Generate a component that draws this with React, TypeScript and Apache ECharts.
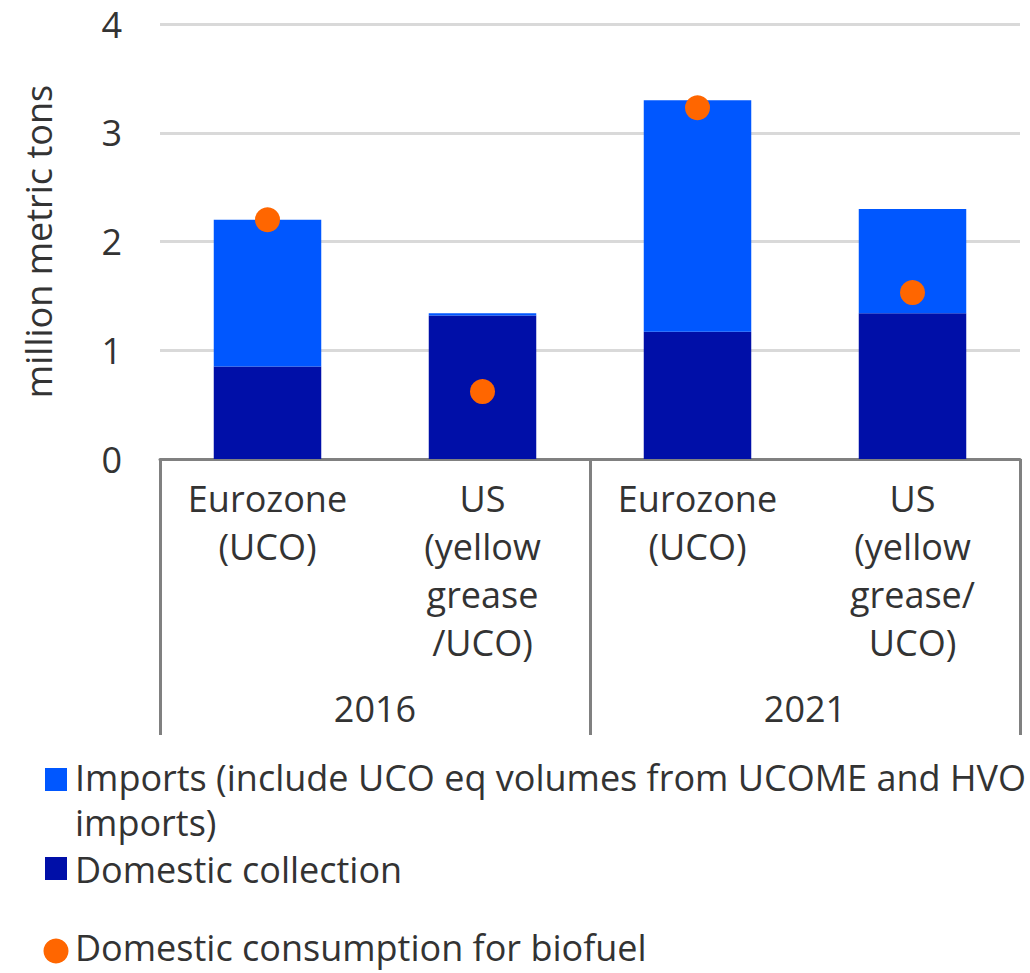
import React, { useEffect, useRef } from "react";
import * as echarts from "echarts";

const categories = [
  "Eurozone\n(UCO)",
  "US\n(yellow\ngrease\n/UCO)",
  "Eurozone\n(UCO)",
  "US\n(yellow\ngrease/\nUCO)",
];
const years = ["2016", "2021"];
const domesticCollection = [0.85, 1.32, 1.17, 1.34];
const importsVolumes = [1.35, 0.02, 2.13, 0.96];
const domesticConsumption = [2.2, 0.62, 3.23, 1.53];
const seriesNames = [
  "Imports (include UCO eq volumes from UCOME and HVO\nimports)",
  "Domestic collection",
  "Domestic consumption for biofuel",
];
const yAxisTitle = "million metric tons";

const LIGHT = "#0057ff";
const DARK = "#000fa8";
const ORANGE = "#ff6600";
const TEXT = "#333333";
const AXIS = "#808080";
const FONT = "'Open Sans', 'Noto Sans', sans-serif";
const FS = 36;

export default function App() {
  const ref = useRef<HTMLDivElement>(null);
  useEffect(() => {
    if (!ref.current) return;
    const chart = echarts.init(ref.current, null, { renderer: "svg" });
    chart.setOption({
      animation: false,
      textStyle: { fontFamily: FONT, color: TEXT },
      grid: { left: 160, right: 10, top: 24, bottom: 514, containLabel: false },
      xAxis: [
        {
          type: "category",
          data: categories,
          axisLine: { show: true, lineStyle: { color: AXIS, width: 3 } },
          axisTick: { show: false },
          axisLabel: {
            interval: 0,
            margin: 15,
            fontSize: FS,
            lineHeight: 48,
            color: TEXT,
            fontFamily: FONT,
          },
        },
        {
          type: "category",
          data: years,
          position: "bottom",
          axisLine: { show: false },
          axisTick: { show: true, length: 276, lineStyle: { color: AXIS, width: 3 } },
          axisLabel: { interval: 0, margin: 231, fontSize: FS, color: TEXT, fontFamily: FONT },
        },
      ],
      yAxis: {
        type: "value",
        min: 0,
        max: 4,
        interval: 1,
        name: yAxisTitle,
        nameLocation: "middle",
        nameGap: 104,
        nameTextStyle: { fontSize: FS, color: TEXT, fontFamily: FONT },
        axisLine: { show: false },
        axisTick: { show: false },
        axisLabel: { margin: 38, fontSize: FS, color: TEXT, fontFamily: FONT },
        splitLine: { lineStyle: { color: "#d9d9d9", width: 3 } },
      },
      series: [
        {
          name: seriesNames[1],
          type: "bar",
          stack: "total",
          barWidth: "50%",
          data: domesticCollection,
          itemStyle: { color: DARK },
        },
        {
          name: seriesNames[0],
          type: "bar",
          stack: "total",
          barWidth: "50%",
          data: importsVolumes,
          itemStyle: { color: LIGHT },
        },
        {
          name: seriesNames[2],
          type: "scatter",
          symbol: "circle",
          symbolSize: 25,
          data: domesticConsumption,
          itemStyle: { color: ORANGE, opacity: 1 },
          z: 5,
        },
      ],
      graphic: [
        { type: "rect", left: 45, top: 768, shape: { width: 22, height: 23 }, style: { fill: LIGHT } },
        {
          type: "text",
          left: 75,
          top: 755,
          style: { text: seriesNames[0], fontSize: FS, lineHeight: 45, fill: TEXT, fontFamily: FONT },
        },
        { type: "rect", left: 45, top: 857, shape: { width: 22, height: 23 }, style: { fill: DARK } },
        {
          type: "text",
          left: 75,
          top: 851,
          style: { text: seriesNames[1], fontSize: FS, lineHeight: 34, fill: TEXT, fontFamily: FONT },
        },
        { type: "circle", shape: { cx: 56, cy: 951, r: 12.5 }, style: { fill: ORANGE } },
        {
          type: "text",
          left: 75,
          top: 924,
          style: { text: seriesNames[2], fontSize: FS, lineHeight: 46, fill: TEXT, fontFamily: FONT },
        },
      ],
    });
    return () => chart.dispose();
  }, []);
  return (
    <div
      ref={ref}
      style={{ position: "absolute", left: 0, top: 0, width: 1030, height: 973 }}
    />
  );
}
